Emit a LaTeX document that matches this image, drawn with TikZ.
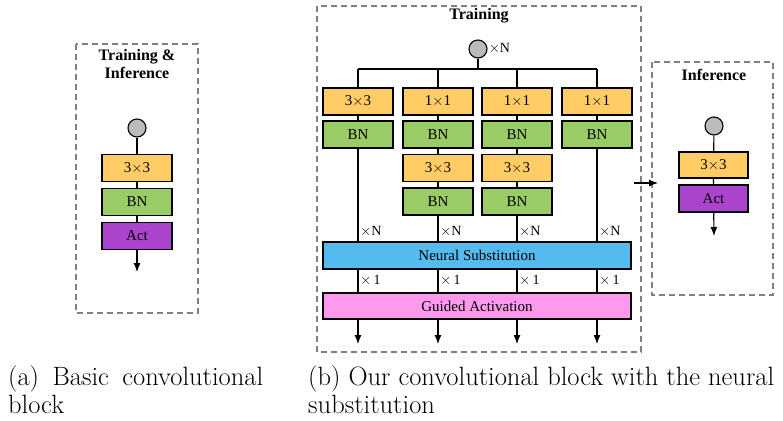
\documentclass[tikz,border=0pt]{standalone}
\usepackage{fontspec}
\newfontfamily\tms{Liberation Serif}
\usetikzlibrary{arrows.meta}
\definecolor{corange}{RGB}{255,204,102}
\definecolor{cgreen}{RGB}{153,204,102}
\definecolor{cpurple}{RGB}{170,68,204}
\definecolor{cblue}{RGB}{85,187,238}
\definecolor{cpink}{RGB}{255,153,238}
\definecolor{cgray}{RGB}{187,187,187}
\definecolor{cdash}{RGB}{128,128,128}
\tikzset{
  blk/.style={draw=black, line width=1.1pt, minimum width=70pt, minimum height=27pt, inner sep=0pt, font=\tms\fontsize{15}{17}\selectfont},
  conv/.style={blk, fill=corange},
  bn/.style={blk, fill=cgreen},
  act/.style={blk, fill=cpurple},
  inp/.style={circle, draw=black, line width=1.1pt, fill=cgray, minimum size=18pt, inner sep=0pt},
  frame/.style={draw=cdash, line width=1.2pt, dash pattern=on 6pt off 4pt},
  ttl/.style={font=\tms\bfseries\fontsize{16}{18}\selectfont, align=center},
  wire/.style={line width=1.1pt},
  arr/.style={line width=1.1pt, -{Latex[length=9pt,width=7pt]}},
  mult/.style={anchor=west, inner sep=1pt, font=\tms\fontsize{14}{16}\selectfont},
  captext/.style={anchor=base west, inner sep=0pt, font=\fontsize{26.5}{28}\selectfont}
}
\begin{document}
\begin{tikzpicture}[x=1pt,y=-1pt]
\useasboundingbox (0,0) rectangle (783,420);
% (a)
\draw[frame] (76,44) rectangle (198,313);
\node[ttl] (ta) at (137,64) {Training \&\\Inference};
\node[inp] (ca) at (137,128) {};
\node[conv] (a1) at (137,168) {3$\times$3};
\node[bn] (a2) at (137,202) {BN};
\node[act] (a3) at (137,236) {Act};
\coordinate (aout) at (137,272);
\draw[wire] (ca) -- (a1) (a1) -- (a2) (a2) -- (a3);
\draw[arr] (a3) -- (aout);
% (b) training
\draw[frame] (317,6) rectangle (641,352);
\node[ttl] (tb) at (479,16) {Training};
\node[inp] (cb) at (478,49) {};
\node[mult, anchor=west] (xn0) at (cb.east) {$\times$N};
\coordinate (bus) at (478,69);
\coordinate (b1) at (358,69);
\coordinate (b4) at (597,69);
\draw[wire] (cb) -- (bus) (b1) -- (b4);
\foreach \i/\x in {1/358,2/438,3/517,4/597}{
  \coordinate (top\i) at (\x,69);
}
\node[conv] (r11) at (358,101.5) {3$\times$3};
\node[conv] (r12) at (438,101.5) {1$\times$1};
\node[conv] (r13) at (517,101.5) {1$\times$1};
\node[conv] (r14) at (597,101.5) {1$\times$1};
\node[bn] (r21) at (358,134.5) {BN};
\node[bn] (r22) at (438,134.5) {BN};
\node[bn] (r23) at (517,134.5) {BN};
\node[bn] (r24) at (597,134.5) {BN};
\node[conv] (r32) at (438,168) {3$\times$3};
\node[conv] (r33) at (517,168) {3$\times$3};
\node[bn] (r42) at (438,201.5) {BN};
\node[bn] (r43) at (517,201.5) {BN};
\node[blk, fill=cblue, minimum width=308pt] (ns) at (477,255.5) {Neural Substitution};
\node[blk, fill=cpink, minimum width=308pt, minimum height=26pt] (ga) at (477,306) {Guided Activation};
\foreach \i in {1,2,3,4}{
  \draw[wire] (top\i) -- (r1\i.north);
  \draw[wire] (r1\i) -- (r2\i);
}
\draw[wire] (r22) -- (r32) (r32) -- (r42);
\draw[wire] (r23) -- (r33) (r33) -- (r43);
\draw[wire] (r21.south) -- (r21.south |- ns.north);
\draw[wire] (r42.south) -- (r42.south |- ns.north);
\draw[wire] (r43.south) -- (r43.south |- ns.north);
\draw[wire] (r24.south) -- (r24.south |- ns.north);
\foreach \i/\x in {1/358,2/438,3/517,4/597}{
  \node[mult] (xn\i) at (\x+1,232) {$\times$N};
  \draw[wire] (\x,268.5) -- (\x,293);
  \node[mult] (xo\i) at (\x+1,280) {$\times$\,1};
  \coordinate (out\i) at (\x,344);
  \draw[arr] (\x,319) -- (out\i);
}
% (c) inference
\draw[frame] (652,62) rectangle (773,295);
\node[ttl] (tc) at (714,75) {Inference};
\node[inp] (cc) at (714,126) {};
\node[conv, minimum width=69pt, minimum height=26pt] (c1) at (713.5,165) {3$\times$3};
\node[act, minimum width=69pt] (c2) at (713.5,198.5) {Act};
\coordinate (cout) at (714,236);
\draw[wire] (cc) -- (c1) (c1) -- (c2);
\draw[arr] (c2) -- (cout);
\coordinate (tr1) at (634,183);
\coordinate (tr2) at (658,183);
\draw[arr] (tr1) -- (tr2);
% captions
\node[captext] (capa1) at (8,385) {\makebox[255pt][s]{(a) Basic convolutional}};
\node[captext] (capa2) at (8,413) {block};
\node[captext] (capb1) at (308,385) {(b) Our convolutional block with the neural};
\node[captext] (capb2) at (308,413) {substitution};
\end{tikzpicture}
\end{document}
